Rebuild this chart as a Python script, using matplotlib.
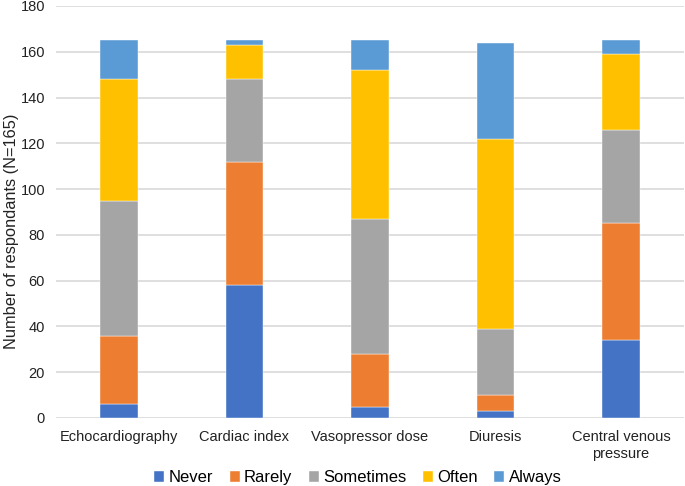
import matplotlib
matplotlib.use("Agg")
import matplotlib.pyplot as plt
import numpy as np

plt.rcParams['font.family'] = ['Liberation Sans', 'DejaVu Sans']

categories = ["Echocardiography", "Cardiac index", "Vasopressor dose", "Diuresis", "Central venous\npressure"]
series_names = ["Never", "Rarely", "Sometimes", "Often", "Always"]
never = [6, 58, 5, 3, 34]
rarely = [30, 54, 23, 7, 51]
sometimes = [59, 36, 59, 29, 41]
often = [53, 15, 65, 83, 33]
always = [17, 2, 13, 42, 6]
colors = ["#4472C4", "#ED7D31", "#A5A5A5", "#FFC000", "#5B9BD5"]

fig = plt.figure(figsize=(6.85, 4.86), dpi=100)
ax = fig.add_axes([0.082, 0.140, 0.916, 0.8477])

x = np.arange(len(categories))
bottom = np.zeros(len(categories))
for name, vals, c in zip(series_names, [never, rarely, sometimes, often, always], colors):
    ax.bar(x, vals, width=0.30, bottom=bottom, color=c, label=name, zorder=3,
           edgecolor='#ffffff', linewidth=0.3)
    bottom += np.array(vals)

ax.set_xlim(-0.5, 4.5)
ax.set_ylim(0, 180)
ax.set_yticks(range(0, 181, 20))
ax.set_xticks(x)
ax.set_xticklabels(categories, fontsize=10.5, color='#222222', linespacing=1.25)
ax.tick_params(axis='y', labelsize=10.5, colors='#222222', length=0, pad=8)
ax.tick_params(axis='x', length=0, pad=9)
ax.grid(axis='y', color='#D9D9D9', linewidth=1.2, zorder=0)
for s in ax.spines.values():
    s.set_visible(False)
ax.set_ylabel("Number of respondants (N=165)", fontsize=11.8, color='#222222')
ax.yaxis.set_label_coords(-0.060, 0.454)

ax.legend(loc='center', bbox_to_anchor=(0.481, -0.145), ncol=5, frameon=False,
          fontsize=12, handlelength=0.6, handleheight=0.6, handletextpad=0.25,
          columnspacing=1.0)

fig.savefig("out.png", dpi=100)
